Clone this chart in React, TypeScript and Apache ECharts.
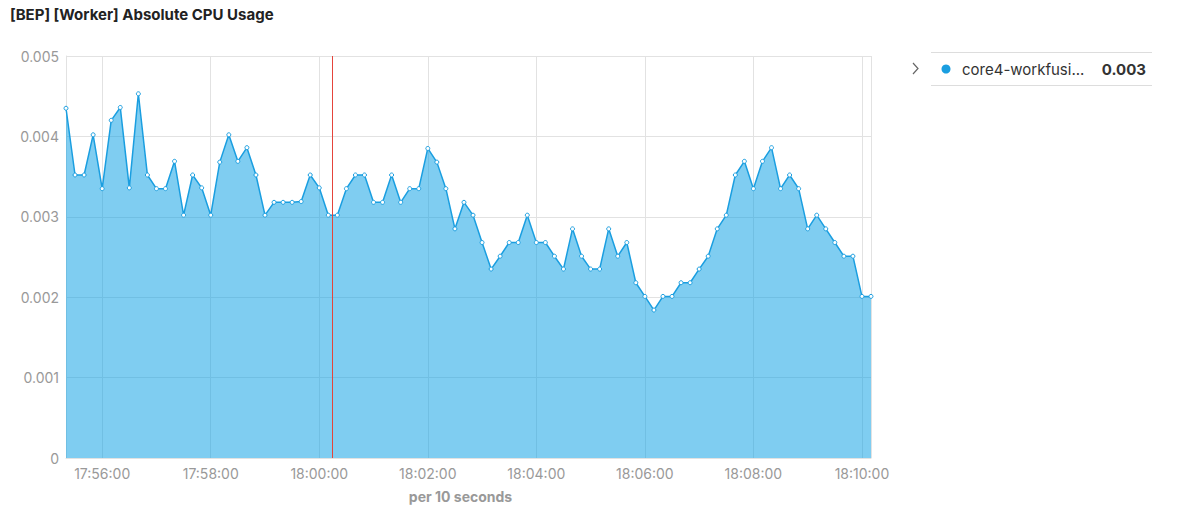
import React, { useEffect, useRef } from "react";
import * as echarts from "echarts";

const TITLE = "[BEP] [Worker] Absolute CPU Usage";
const SERIES_NAME = "core4-workfusi...";
const LEGEND_VALUE = "0.003";
const X_AXIS_NAME = "per 10 seconds";
const START = [17, 55, 20]; // hh, mm, ss of first sample
const STEP_SECONDS = 10;
const MARKER_TIME = [18, 0, 14];
const Y_TICKS = [0, 0.001, 0.002, 0.003, 0.004, 0.005];

const cpuValues = [
  0.00435, 0.00352, 0.00352, 0.00402, 0.00335, 0.0042, 0.00436, 0.00336, 0.00453, 0.00352,
  0.00335, 0.00335, 0.00369, 0.00302, 0.00352, 0.00336, 0.00302, 0.00368, 0.00402, 0.00369,
  0.00386, 0.00352, 0.00302, 0.00318, 0.00318, 0.00318, 0.00319, 0.00352, 0.00336, 0.00302,
  0.00302, 0.00335, 0.00352, 0.00352, 0.00318, 0.00318, 0.00352, 0.00318, 0.00335, 0.00335,
  0.00385, 0.00368, 0.00335, 0.00285, 0.00318, 0.00302, 0.00268, 0.00235, 0.00251, 0.00268,
  0.00268, 0.00302, 0.00268, 0.00268, 0.00251, 0.00235, 0.00285, 0.00251, 0.00235, 0.00235,
  0.00285, 0.00251, 0.00268, 0.00218, 0.00201, 0.00184, 0.00201, 0.00201, 0.00218, 0.00218,
  0.00235, 0.00251, 0.00285, 0.00302, 0.00352, 0.00369, 0.00335, 0.00369, 0.00386, 0.00335,
  0.00352, 0.00335, 0.00285, 0.00302, 0.00285, 0.00268, 0.00251, 0.00251, 0.00201, 0.00201,
];

const FONT = "Inter, 'Noto Sans', sans-serif";
const LINE_COLOR = "#1a9ee0";

export default function App() {
  const ref = useRef<HTMLDivElement>(null);
  useEffect(() => {
    if (!ref.current) return;
    const chart = echarts.init(ref.current, null, { renderer: "svg" });
    const t0 = new Date(2024, 0, 1, START[0], START[1], START[2]).getTime();
    const data = cpuValues.map((v, i) => [t0 + i * STEP_SECONDS * 1000, v]);
    const marker = new Date(2024, 0, 1, MARKER_TIME[0], MARKER_TIME[1], MARKER_TIME[2]).getTime();
    const tEnd = t0 + (cpuValues.length - 1) * STEP_SECONDS * 1000;

    chart.setOption({
      animation: false,
      textStyle: { fontFamily: FONT },
      title: {
        text: TITLE,
        left: 5,
        top: 2,
        textStyle: { fontSize: 15, fontWeight: "bold", color: "#222", fontFamily: FONT },
      },
      grid: { left: 66, right: 309, top: 56, bottom: 66 },
      xAxis: {
        type: "time",
        min: t0,
        max: tEnd,
        minInterval: 150000,
        maxInterval: 170000,
        name: X_AXIS_NAME,
        nameLocation: "middle",
        nameGap: 31,
        nameTextStyle: { fontSize: 14, fontWeight: "bold", color: "#999", fontFamily: FONT, padding: [0, 16, 0, 0] },
        axisLine: { show: true, lineStyle: { color: "#e2e2e2" } },
        axisTick: { show: false },
        minorTick: { show: false },
        splitLine: { show: true, lineStyle: { color: "#e2e2e2" } },
        axisLabel: {
          color: "#999",
          fontSize: 14,
          margin: 8,
          fontFamily: FONT,
          formatter: "{HH}:{mm}:{ss}",
          hideOverlap: false,
        },
      },
      yAxis: {
        type: "value",
        min: Y_TICKS[0],
        max: Y_TICKS[Y_TICKS.length - 1],
        interval: Y_TICKS[1] - Y_TICKS[0],
        axisLine: { show: true, lineStyle: { color: "#e2e2e2" } },
        axisTick: { show: false },
        splitLine: { show: true, lineStyle: { color: "#e2e2e2" } },
        axisLabel: {
          color: "#999",
          fontSize: 14,
          margin: 7,
          fontFamily: FONT,
          formatter: (v: number) => (v === 0 ? "0" : v.toFixed(3)),
        },
      },
      series: [
        {
          type: "line",
          name: SERIES_NAME,
          data,
          showSymbol: true,
          showAllSymbol: true,
          symbol: "circle",
          symbolSize: 4,
          itemStyle: { color: "#ffffff", borderColor: LINE_COLOR, borderWidth: 1 },
          lineStyle: { color: LINE_COLOR, width: 1.5 },
          areaStyle: { color: "rgba(14,160,228,0.53)", opacity: 1 },
          markLine: {
            silent: true,
            symbol: "none",
            label: { show: false },
            lineStyle: { color: "#e5443b", width: 1, type: "solid" },
            data: [{ xAxis: marker }],
          },
        },
      ],
      graphic: [
        { type: "line", shape: { x1: 931, y1: 52.5, x2: 1152, y2: 52.5 }, style: { stroke: "#dddddd", lineWidth: 1 } },
        { type: "line", shape: { x1: 931, y1: 85.5, x2: 1152, y2: 85.5 }, style: { stroke: "#dddddd", lineWidth: 1 } },
        {
          type: "polyline",
          shape: { points: [[913, 63], [918, 68.5], [913, 74]] },
          style: { stroke: "#666", lineWidth: 1.2, fill: null },
        },
        { type: "circle", shape: { cx: 946, cy: 69, r: 4.5 }, style: { fill: LINE_COLOR } },
        {
          type: "text",
          x: 962,
          y: 69,
          style: { text: SERIES_NAME, fill: "#333", fontSize: 15, fontFamily: FONT, verticalAlign: "middle", align: "left" },
        },
        {
          type: "text",
          x: 1146,
          y: 69,
          style: {
            text: LEGEND_VALUE,
            fill: "#333",
            fontSize: 15,
            fontWeight: "bold",
            fontFamily: FONT,
            verticalAlign: "middle",
            align: "right",
          },
        },
      ],
    });
    return () => chart.dispose();
  }, []);

  return <div ref={ref} style={{ width: 1180, height: 524, margin: -8 }} />;
}
